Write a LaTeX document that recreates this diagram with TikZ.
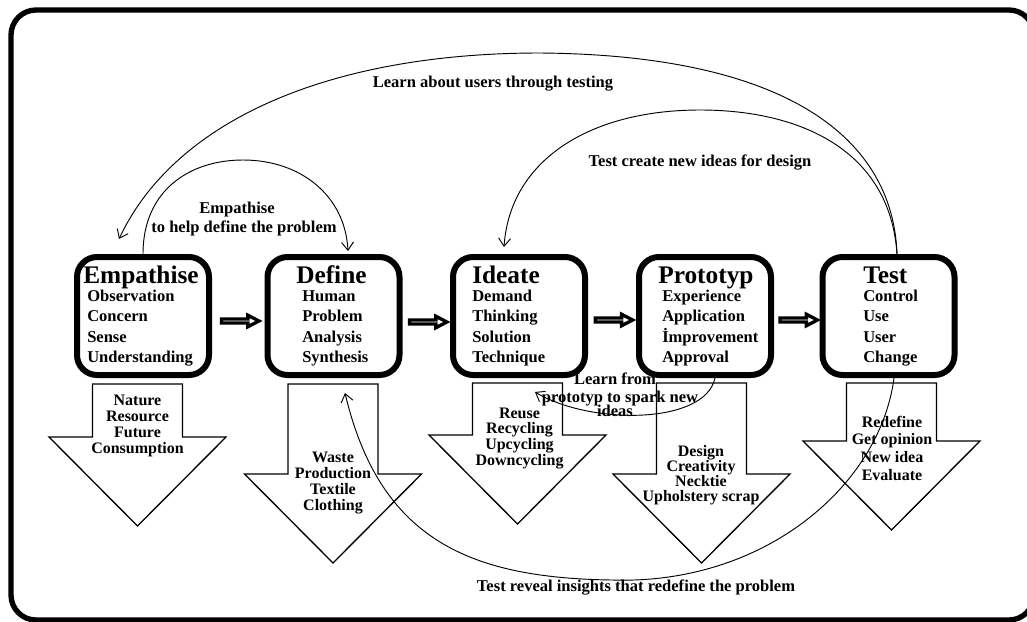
\documentclass[tikz,border=0pt]{standalone}
\usepackage{fontspec}
\setmainfont{Liberation Serif}
\usetikzlibrary{arrows.meta,shapes.arrows,calc}
\newcommand\dnblock[3]{% cx, top, shoulder
  \draw[blk] (#1-45,#2) -- (#1+45,#2) -- (#1+45,#3) -- (#1+88.5,#3) -- (#1,#3+89) -- (#1-88.5,#3) -- (#1-45,#3) -- cycle;}
\begin{document}
\begin{tikzpicture}[x=0.75pt,y=-0.75pt,
  box/.style={draw,line width=4.5pt,rounded corners=15pt,minimum width=99pt,minimum height=88.5pt,inner sep=0pt},
  ttl/.style={font=\bfseries\fontsize{19pt}{22pt}\selectfont,anchor=base west,inner sep=0pt},
  itm/.style={font=\bfseries\fontsize{12.4pt}{15pt}\selectfont,anchor=base west,inner sep=0pt},
  lbl/.style={font=\bfseries\fontsize{12.4pt}{15pt}\selectfont,anchor=base,inner sep=0pt},
  alb/.style={font=\bfseries\fontsize{12pt}{14pt}\selectfont,anchor=base,inner sep=0pt},
  blk/.style={draw,line width=1pt,fill=white,line join=miter},
  link/.style={line width=0.7pt,-{Straight Barb[length=6pt,width=9pt]}},
  flow/.style={single arrow,draw,line width=2.5pt,fill=white,minimum width=8.6pt,minimum height=28pt,single arrow head extend=2.25pt,single arrow tip angle=55,inner sep=0pt}
]
\useasboundingbox (0,0) rectangle (1027,621);
\fill[white] (0,0) rectangle (1027,621);
% frame (right and bottom edges run off the picture)
\draw[line width=4pt,rounded corners=18.75pt] (11,10) rectangle (1034,620);

% down block arrows
\dnblock{137.5}{384}{437}
\dnblock{333}{384}{474}
\dnblock{517.5}{383}{435}
\dnblock{701.5}{383}{474}
\dnblock{891.5}{383}{441}

% stage boxes
\node[box] (emp) at (143,316) {};
\node[box] (def) at (333.5,316) {};
\node[box] (ide) at (519,316) {};
\node[box] (pro) at (705,316) {};
\node[box] (tst) at (888.5,316) {};

% flow arrows between boxes
\node[flow] (f1) at ($(emp.east)!0.5!(def.west)+(0,5)$) {};
\node[flow] (f2) at ($(def.east)!0.5!(ide.west)+(0,6)$) {};
\node[flow] (f3) at ($(ide.east)!0.5!(pro.west)+(0,4)$) {};
\node[flow] (f4) at ($(pro.east)!0.5!(tst.west)+(0,4)$) {};

% titles
\node[ttl] (empT) at (83,283) {Empathise};
\node[ttl] (defT) at (296,283) {Define};
\node[ttl] (ideT) at (472,283) {Ideate};
\node[ttl] (proT) at (658,283) {Prototyp};
\node[ttl] (tstT) at (863,283) {Test};

% items
\foreach \t [count=\i] in {Observation,Concern,Sense,Understanding}
  \node[itm] (empI\i) at (87,281.2+20.3*\i) {\t};
\foreach \t [count=\i] in {Human,Problem,Analysis,Synthesis}
  \node[itm] (defI\i) at (302,281.2+20.3*\i) {\t};
\foreach \t [count=\i] in {Demand,Thinking,Solution,Technique}
  \node[itm] (ideI\i) at (472,281.2+20.3*\i) {\t};
\foreach \t [count=\i] in {Experience,Application,İmprovement,Approval}
  \node[itm] (proI\i) at (662,281.2+20.3*\i) {\t};
\foreach \t [count=\i] in {Control,Use,User,Change}
  \node[itm] (tstI\i) at (863,281.2+20.3*\i) {\t};

% free ends of the feedback connectors
\coordinate (c1end) at (119,239);
\coordinate (c2end) at (504,247);
\coordinate (c3end) at (348,251);
\coordinate (c4end) at (535,392);
\coordinate (c5end) at (345,393);

% feedback connectors
\draw[link] ($(tst.north)+(8.5,0)$) .. controls (893,140) and (790,55) .. (540,53)
  .. controls (330,53) and (175,120) .. (c1end);
\draw[link] ($(tst.north)+(8.5,0)$) .. controls (890,150) and (800,110) .. (700,110)
  .. controls (590,110) and (510,160) .. (c2end);
\draw[link] (emp.north) .. controls (143,190) and (190,160) .. (243,160)
  .. controls (300,160) and (345,195) .. (c3end);
\draw[link] ($(pro.south)+(10,0)$) .. controls (705,425) and (590,425) .. (c4end);
\draw[link] ($(tst.south)+(5.5,0)$) .. controls (880,485) and (765,585) .. (612,580)
  .. controls (470,578) and (380,540) .. (c5end);

% connector labels
\node[lbl] (l1) at (493,87) {Learn about users through testing};
\node[lbl] (l2) at (700,166) {Test create new ideas for design};
\node[lbl] (l3a) at (237,213) {Empathise};
\node[lbl] (l3b) at (244,232) {to help define the problem};
\node[lbl] (l4a) at (615,384.5) {Learn from};
\node[lbl] (l4b) at (620,402) {prototyp to spark new};
\node[lbl] (l4c) at (615,416.5) {ideas};
\node[lbl] (l5) at (636,591) {Test reveal insights that redefine the problem};

% block arrow labels
\foreach \t [count=\i] in {Nature,Resource,Future,Consumption}
  \node[alb] (a1\i) at (137.5,388.7+16.3*\i) {\t};
\foreach \t [count=\i] in {Waste,Production,Textile,Clothing}
  \node[alb] (a2\i) at (333,446+16*\i) {\t};
\foreach \t [count=\i] in {Reuse,Recycling,Upcycling,Downcycling}
  \node[alb] (a3\i) at (519.5,402.3+15.7*\i) {\t};
\foreach \t [count=\i] in {Design,Creativity,Necktie,Upholstery scrap}
  \node[alb] (a4\i) at (701,440.7+15.3*\i) {\t};
\foreach \t [count=\i] in {Redefine,Get opinion,New idea,Evaluate}
  \node[alb] (a5\i) at (892,409.3+17.7*\i) {\t};
\end{tikzpicture}
\end{document}
